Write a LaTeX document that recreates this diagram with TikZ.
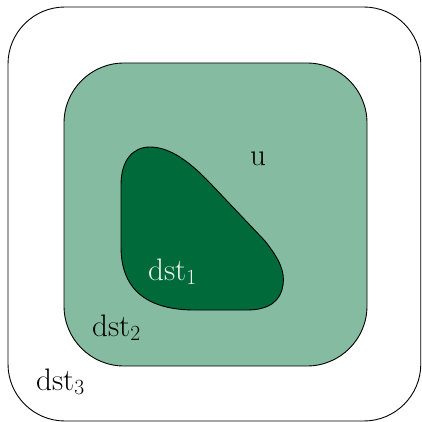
\documentclass[tikz,border=0pt]{standalone}
\usepackage{tikz}
\definecolor{lightg}{RGB}{133,187,160}
\definecolor{darkg}{RGB}{0,106,59}
\definecolor{paleg}{RGB}{236,245,239}
\begin{document}
\begin{tikzpicture}[x=1pt,y=-1pt,line width=0.9pt,
  lbl/.style={inner sep=0pt,anchor=base,scale=1.25,font=\fontsize{24}{29}\selectfont}]
\useasboundingbox (0,0) rectangle (421,422);
\clip (0,0) rectangle (421,422);
\draw[rounded corners=57pt] (8,7) rectangle (420.8,421);
\draw[fill=lightg,rounded corners=60pt] (64,63) rectangle (367,366);
\draw[fill=darkg] (121,247) -- (121,185) .. controls (121,160) and (133,147) .. (150,147)
  .. controls (170,147) and (190,162) .. (210,183) -- (265,241)
  .. controls (280,260) and (285,272) .. (283,285)
  .. controls (281,300) and (270,310) .. (247,310) -- (195,310)
  .. controls (150,310) and (121,292) .. (121,247) -- cycle;
\node[lbl] (u) at (258,165) {$\mathrm{u}$};
\node[lbl,text=paleg] (d1) at (172.5,280) {$\mathrm{dst}_1$};
\node[lbl] (d2) at (116.5,336) {$\mathrm{dst}_2$};
\node[lbl] (d3) at (60.5,390) {$\mathrm{dst}_3$};
\end{tikzpicture}
\end{document}
